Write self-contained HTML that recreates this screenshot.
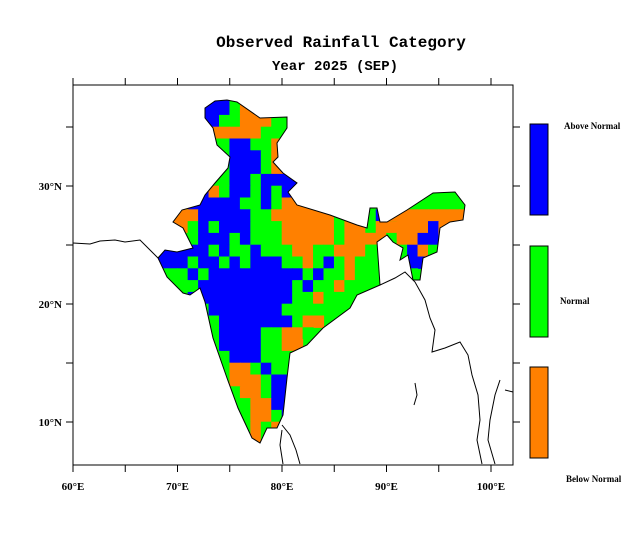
<!DOCTYPE html>
<html><head><meta charset="utf-8"><style>
body{margin:0;background:#fff;}
svg text{font-family:"Liberation Serif",serif;font-weight:bold;fill:#000;}
</style></head><body>
<svg id="chart" width="640" height="551" viewBox="0 0 640 551" xmlns="http://www.w3.org/2000/svg">
<rect width="640" height="551" fill="#fff"/>
<text x="341" y="47" text-anchor="middle" font-size="16" style="font-family:'Liberation Mono',monospace;">Observed Rainfall Category</text>
<text x="335" y="70" text-anchor="middle" font-size="14" style="font-family:'Liberation Mono',monospace;">Year 2025 (SEP)</text>
<defs><clipPath id="india"><polygon id="indiaPoly"/></clipPath></defs>
<polygon id="indiaBg" fill="#00ff00"/>
<g id="cells" clip-path="url(#india)"></g>
<polygon id="indiaOutline" fill="none" stroke="#000" stroke-width="1"/>
<g id="coasts" fill="none" stroke="#000" stroke-width="1"></g>
<rect x="73" y="85" width="440" height="380" fill="none" stroke="#000" stroke-width="1"/>
<g id="axes"></g>
<g id="legend"></g>
</svg>
<script>
// Category grid segments: [lat (top of 1° band), start lon, categories B/G/O]
const segLat=[38,37,36,35,34,33,32,31,30,29,28,28,28,27,27,26,26,25,25,24,24,23,23,22,21,20,19,18,17,16,15,14,13,12,11,10,9,8];
const segLon=[72,72,72,73,73,74,73,72,72,71,68,87,90,68,89,68,88,67,88,67,88,67,88,69,71,71,71,72,72,72,73,73,74,74,75,75,75,75];
const segCats=["BBBGOOG","BBBGOOGG","BBGGOOOGG","OOOOOGGGG","GGBBGGOO","GBBBGOO","GGBBBGOO","GGGBBGBBBB","BOGBBGBGBB","BBBBBGGBGOOOO",
"OOOOBBBBBGGOOOOOOGGG","GGB","OOOOOOOOO","OOOGBGBBBGGGOOOOOGOOGGG","OOOOOBOOO","GGGGBBBGBGGGOOOOOGOOOO","OOGOOBBOO",
"BBBBBBGBGGBGGGOOGGOOOGG","GGGGBOGG","BBBBGBBGBGBBBGGOGBGOGG","GGGGBB","GGGGBGBBBBBBBBBGBGGOG","GGGGG","GGGBBBBBBBBBGBGGOGG",
"BBBBBBBBBBGGOGG","GGBBBBBBBGGGGG","GGGBBBBBBBGOO","GGBBBBGGOOG","GGBBBBGGOO","GGGBBBGGGG","GGOOGBGG","GGOOOGBB","GGOOGBB","GGGOOBB","GGOOGB","GGOGOO","GGOGO","GGOGG"];
const legendLabels=["Above Normal","Normal","Below Normal"];
const xTickLabels=["60°E","70°E","80°E","90°E","100°E"];
const xTickVals=[60,70,80,90,100];
const yTickLabels=["10°N","20°N","30°N"];
const yTickVals=[10,20,30];
const colors={B:"#0000ff",G:"#00ff00",O:"#ff8000"};
const NS="http://www.w3.org/2000/svg";
function X(lon){return 73+(lon-60)*10.45;}
function Y(lat){return 304-(lat-20)*11.8;}
function mk(t,a,p){const e=document.createElementNS(NS,t);for(const k in a)e.setAttribute(k,a[k]);(p||document.getElementById('chart')).appendChild(e);return e;}
const outline=[[205,108],[215,101],[227,100],[237,102],[260,118],[287,117],[287,128],[277,143],[278,157],[273,162],[283,173],[297,183],[288,192],[297,205],[330,215],[357,225],[367,228],[370,208],[377,208],[380,222],[387,222],[407,210],[433,193],[455,192],[465,205],[463,220],[450,222],[440,228],[437,252],[423,258],[420,280],[413,280],[408,255],[400,260],[403,248],[393,242],[387,235],[377,242],[380,285],[357,295],[350,308],[323,328],[307,345],[290,353],[287,378],[283,415],[277,428],[267,428],[260,443],[252,438],[238,408],[227,378],[213,338],[205,302],[200,288],[190,295],[183,293],[167,277],[158,258],[165,250],[177,252],[193,248],[183,228],[173,222],[182,210],[200,205],[205,195],[215,183],[228,168],[230,157],[217,145],[213,128],[205,118]];
const pts=outline.map(p=>p.join(',')).join(' ');
document.getElementById('indiaPoly').setAttribute('points',pts);
document.getElementById('indiaBg').setAttribute('points',pts);
document.getElementById('indiaOutline').setAttribute('points',pts);
const cg=document.getElementById('cells');
for(let s=0;s<segLat.length;s++){
  const cats=segCats[s];
  for(let i=0;i<cats.length;i++){
    const c=cats[i]; if(!colors[c])continue;
    const lon=segLon[s]+i, lat=segLat[s];
    const r=mk('rect',{x:X(lon)-0.3,y:Y(lat)-0.3,width:10.45+0.6,height:11.8+0.6,fill:colors[c]},cg);
    
    
  }
}
const coasts=["73,243 90,244 100,241 115,240 125,242 140,240 150,250 158,258",
"380,285 395,278 405,272 415,282 425,300 430,318 435,330 432,352 445,348 460,342 468,355 472,375 478,395 480,420 477,440 482,464",
"415,383 417,395 414,405","282,425 290,435 296,450 300,464","282,430 280,445 283,464","500,380 495,395 490,420 488,440 495,464","505,390 513,392"];
const cog=document.getElementById('coasts');
coasts.forEach(p=>{const l=mk('polyline',{points:p},cog);

});
const ax=document.getElementById('axes');
for(let lon=60;lon<=100;lon+=5){const x=X(lon);
 const t1=mk('line',{x1:x,y1:465,x2:x,y2:472,stroke:'#000'},ax);
 
 
 const t2=mk('line',{x1:x,y1:78,x2:x,y2:85,stroke:'#000'},ax);
 
 }
for(let lat=10;lat<=35;lat+=5){const y=Y(lat);
 const t1=mk('line',{x1:66,y1:y,x2:73,y2:y,stroke:'#000'},ax);
 
 
 const t2=mk('line',{x1:513,y1:y,x2:520,y2:y,stroke:'#000'},ax);
 
 }
xTickLabels.forEach((s,i)=>{const t=mk('text',{x:X(xTickVals[i]),y:490,'text-anchor':'middle','font-size':11},ax);t.textContent=s;
 
 });
yTickLabels.forEach((s,i)=>{const t=mk('text',{x:62,y:Y(yTickVals[i])+4,'text-anchor':'end','font-size':11},ax);t.textContent=s;
 
 });
const lg=document.getElementById('legend');
const boxY=[124,246,367],boxC=["#0000ff","#00ff00","#ff8000"];
const labPos=[[564,129],[560,304],[566,482]];
legendLabels.forEach((s,i)=>{
 const r=mk('rect',{x:530,y:boxY[i],width:18,height:91,fill:boxC[i],stroke:'#000'},lg);
 
 
 const t=mk('text',{x:labPos[i][0],y:labPos[i][1],'font-size':9},lg);t.textContent=s;
 
 
});
</script>
</body></html>
